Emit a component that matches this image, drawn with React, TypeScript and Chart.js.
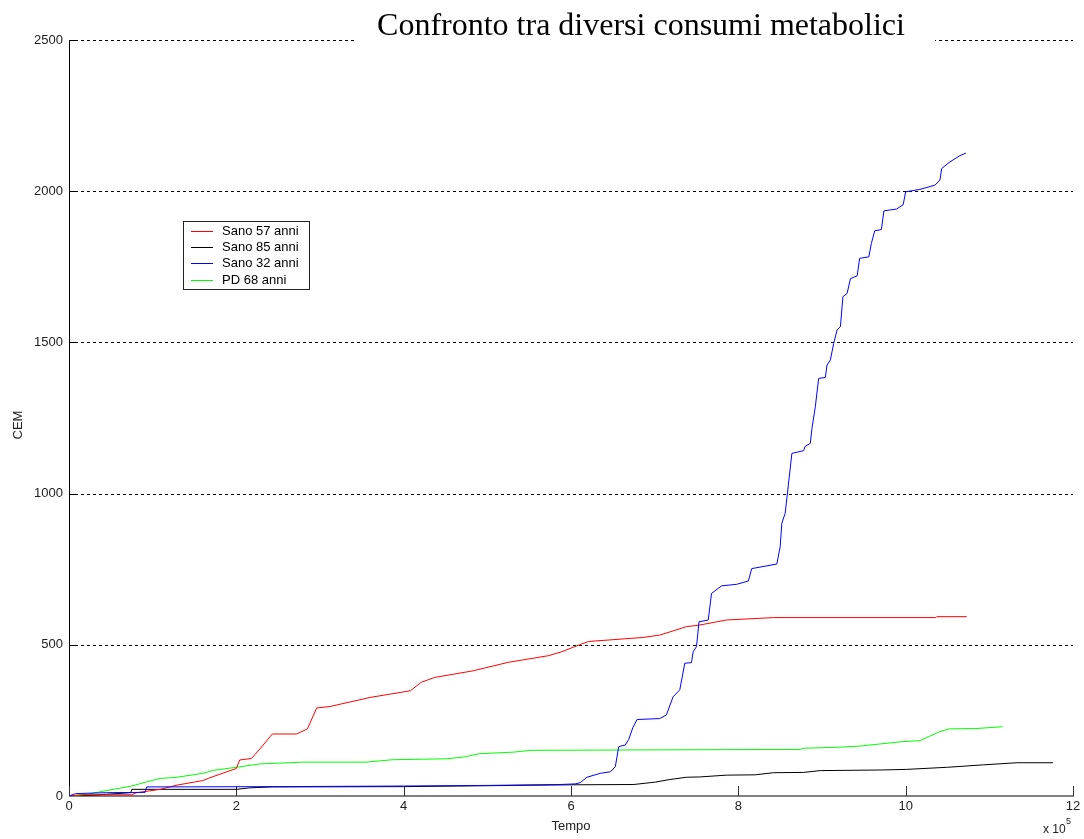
import React, { useEffect, useRef } from 'react';
import { Chart, registerables } from 'chart.js';

Chart.register(...registerables);

// ---- data (x in units of 10^5) ----
const chartTitle = 'Confronto tra diversi consumi metabolici';
const xAxisLabel = 'Tempo';
const yAxisLabel = 'CEM';
const xTicks = [0, 2, 4, 6, 8, 10, 12];
const yTicks = [0, 500, 1000, 1500, 2000, 2500];
const seriesLabels = ['Sano 57 anni', 'Sano 85 anni', 'Sano 32 anni', 'PD 68 anni'];
const seriesColors = ['#ff0000', '#000000', '#0000ff', '#00ff00'];

const sano57: [number, number][] = [
  [0, 0], [0.15, 4], [0.75, 4], [0.81, 11], [1.09, 22], [1.29, 36], [1.6, 51], [1.68, 60],
  [2.0, 91], [2.04, 119], [2.18, 124], [2.28, 155], [2.43, 205], [2.72, 205], [2.85, 222],
  [2.96, 291], [3.12, 296], [3.6, 326], [4.08, 348], [4.21, 376], [4.37, 392], [4.83, 414],
  [5.25, 442], [5.73, 464], [5.89, 477], [6.1, 500], [6.21, 511], [6.85, 524], [7.06, 532],
  [7.38, 560], [7.53, 565], [7.86, 582], [8.42, 590], [10.36, 590], [10.37, 593], [10.73, 593],
];

const sano85: [number, number][] = [
  [0, 0], [0.3, 3], [0.74, 11], [0.75, 22], [2.0, 22], [2.16, 27], [2.43, 30], [4.0, 31],
  [6.0, 37], [6.75, 38], [7.01, 46], [7.17, 54], [7.38, 62], [7.54, 63], [7.86, 69], [8.2, 70],
  [8.42, 77], [8.78, 78], [8.98, 84], [9.71, 86], [10.01, 88], [10.5, 95], [10.93, 103],
  [11.33, 110], [11.76, 110],
];

const sano32: [number, number][] = [
  [0, 0], [0.08, 8], [0.45, 11], [0.91, 12], [0.93, 30], [2.5, 31], [4.0, 33], [5.0, 35],
  [5.87, 38], [6.05, 40], [6.11, 44], [6.19, 62], [6.35, 75], [6.47, 80], [6.53, 97],
  [6.57, 163], [6.65, 169], [6.69, 187], [6.74, 227], [6.79, 253], [7.06, 256], [7.14, 268],
  [7.22, 328], [7.3, 351], [7.36, 439], [7.44, 441], [7.46, 477], [7.5, 494], [7.53, 576],
  [7.64, 582], [7.68, 670], [7.8, 695], [7.98, 700], [8.12, 711], [8.16, 752], [8.46, 767],
  [8.5, 824], [8.52, 902], [8.56, 935], [8.64, 1133], [8.78, 1142], [8.8, 1157], [8.86, 1166],
  [8.88, 1216], [8.92, 1287], [8.96, 1381], [9.04, 1384], [9.06, 1425], [9.1, 1442],
  [9.14, 1497], [9.18, 1541], [9.22, 1552], [9.25, 1651], [9.3, 1662], [9.34, 1711],
  [9.42, 1720], [9.45, 1778], [9.56, 1783], [9.59, 1827], [9.63, 1869], [9.71, 1873],
  [9.74, 1935], [9.89, 1941], [9.97, 1955], [10.0, 1998], [10.17, 2006], [10.35, 2020],
  [10.41, 2037], [10.43, 2075], [10.53, 2097], [10.65, 2118], [10.72, 2126],
];

const pd68: [number, number][] = [
  [0, 0], [0.2, 5], [0.49, 20], [0.75, 33], [0.93, 47], [1.09, 58], [1.29, 62], [1.6, 75],
  [1.73, 85], [2.0, 95], [2.28, 106], [2.8, 112], [3.55, 112], [3.87, 120], [4.51, 123],
  [4.72, 129], [4.91, 140], [5.31, 145], [5.52, 151], [7.53, 153], [8.74, 154], [8.78, 158],
  [9.17, 161], [9.45, 165], [9.69, 172], [9.97, 180], [10.17, 183], [10.29, 198], [10.41, 213],
  [10.52, 222], [10.83, 223], [11.16, 229],
];

const seriesData = [sano57, sano85, sano32, pd68];
const drawOrder = [1, 3, 0, 2]; // blue on top

const FONT = '"Liberation Sans", Arial, sans-serif';

const decorPlugin = {
  id: 'decor',
  beforeDatasetsDraw(chart: any) {
    const { ctx, chartArea: a, scales } = chart;
    const xs = scales.x;
    const ys = scales.y;
    ctx.save();
    // dashed grid lines
    ctx.strokeStyle = '#000';
    ctx.lineWidth = 1;
    ctx.setLineDash([3, 3]);
    for (const v of yTicks) {
      if (v === 0) continue;
      const py = Math.round(ys.getPixelForValue(v)) + 0.5;
      ctx.beginPath();
      ctx.moveTo(a.left, py);
      ctx.lineTo(a.right, py);
      ctx.stroke();
    }
    ctx.setLineDash([]);
    // white box behind the title
    ctx.fillStyle = '#fff';
    ctx.fillRect(357, 28, 578, 16);
    // left axis
    ctx.strokeStyle = '#000';
    ctx.beginPath();
    ctx.moveTo(a.left + 0.5, a.top);
    ctx.lineTo(a.left + 0.5, a.bottom);
    ctx.stroke();
    // y ticks
    for (const v of yTicks) {
      const py = Math.round(ys.getPixelForValue(v)) + 0.5;
      ctx.beginPath();
      ctx.moveTo(a.left, py);
      ctx.lineTo(a.left + 6, py);
      ctx.stroke();
    }
    // bottom axis
    ctx.fillStyle = '#808080';
    ctx.fillRect(a.left, a.bottom - 1, a.right - a.left + 1, 2);
    // x ticks
    ctx.strokeStyle = '#333';
    for (const v of xTicks) {
      const px = Math.round(xs.getPixelForValue(v)) + 0.5;
      ctx.beginPath();
      ctx.moveTo(px, a.bottom);
      ctx.lineTo(px, a.bottom - 10);
      ctx.stroke();
    }
    ctx.restore();
  },
  afterDatasetsDraw(chart: any) {
    const { ctx, scales } = chart;
    const xs = scales.x;
    ctx.save();
    // title
    ctx.fillStyle = '#000';
    ctx.font = '32px "Liberation Serif", "Times New Roman", serif';
    ctx.textAlign = 'center';
    ctx.textBaseline = 'alphabetic';
    ctx.fillText(chartTitle, 641, 35);

    // axis titles
    ctx.font = '13px ' + FONT;
    ctx.fillStyle = '#222';
    ctx.textBaseline = 'middle';
    ctx.fillText(xAxisLabel, xs.getPixelForValue(6), 826);
    ctx.save();
    ctx.translate(18, 425);
    ctx.rotate(-Math.PI / 2);
    ctx.fillText(yAxisLabel, 0, 0);
    ctx.restore();

    // x 10^5
    ctx.textAlign = 'left';
    ctx.font = '12px ' + FONT;
    ctx.fillText('x 10', 1043, 830);
    ctx.font = '9px ' + FONT;
    ctx.fillText('5', 1066, 822);

    // legend
    const lx = 183, ly = 221, lw = 127, lh = 69;
    ctx.fillStyle = '#fff';
    ctx.fillRect(lx, ly, lw, lh);
    ctx.strokeStyle = '#222';
    ctx.lineWidth = 1;
    ctx.strokeRect(lx + 0.5, ly + 0.5, lw - 1, lh - 1);
    ctx.font = '13px ' + FONT;
    ctx.textBaseline = 'middle';
    chart.data.datasets.forEach((ds: any, i: number) => {
      const cy = Math.round(231 + i * 16.2) + 0.5;
      ctx.strokeStyle = ds.borderColor;
      ctx.beginPath();
      ctx.moveTo(191, cy);
      ctx.lineTo(213, cy);
      ctx.stroke();
      ctx.fillStyle = '#000';
      ctx.fillText(ds.label, 222, cy);
    });
    ctx.restore();
  },
};

export default function App() {
  const canvasRef = useRef<HTMLCanvasElement | null>(null);

  useEffect(() => {
    document.body.style.margin = '0';
    const canvas = canvasRef.current;
    if (!canvas) return;
    const chart = new Chart(canvas, {
      type: 'line',
      data: {
        datasets: seriesData.map((pts, i) => ({
          label: seriesLabels[i],
          data: pts.map(([x, y]) => ({ x, y })),
          borderColor: seriesColors[i],
          backgroundColor: seriesColors[i],
          borderWidth: 1,
          pointRadius: 0,
          tension: 0,
          fill: false,
          order: drawOrder[i],
        })),
      },
      options: {
        animation: false,
        responsive: false,
        devicePixelRatio: 1,
        layout: { padding: { top: 40, right: 11, left: 0, bottom: 0 } },
        plugins: {
          legend: { display: false },
          title: { display: false },
          tooltip: { enabled: false },
        },
        scales: {
          x: {
            type: 'linear',
            min: 0,
            max: 12,
            ticks: {
              stepSize: 2,
              color: '#222',
              font: { family: FONT, size: 13 },
              padding: 3,
              maxRotation: 0,
              callback: (v: any) => String(v),
            },
            grid: { display: false, drawTicks: false },
            border: { display: false },
            afterFit: (s: any) => { s.height = 43; },
          },
          y: {
            type: 'linear',
            min: 0,
            max: 2500,
            ticks: {
              stepSize: 500,
              color: '#222',
              font: { family: FONT, size: 13 },
              padding: 6,
              callback: (v: any) => String(v),
            },
            grid: { display: false, drawTicks: false },
            border: { display: false },
            afterFit: (s: any) => { s.width = 69; },
          },
        },
      },
      plugins: [decorPlugin],
    } as any);
    return () => chart.destroy();
  }, []);

  return (
    <div style={{ width: 1084, height: 839, background: '#fff' }}>
      <canvas ref={canvasRef} width={1084} height={839} style={{ display: 'block' }} />
    </div>
  );
}
